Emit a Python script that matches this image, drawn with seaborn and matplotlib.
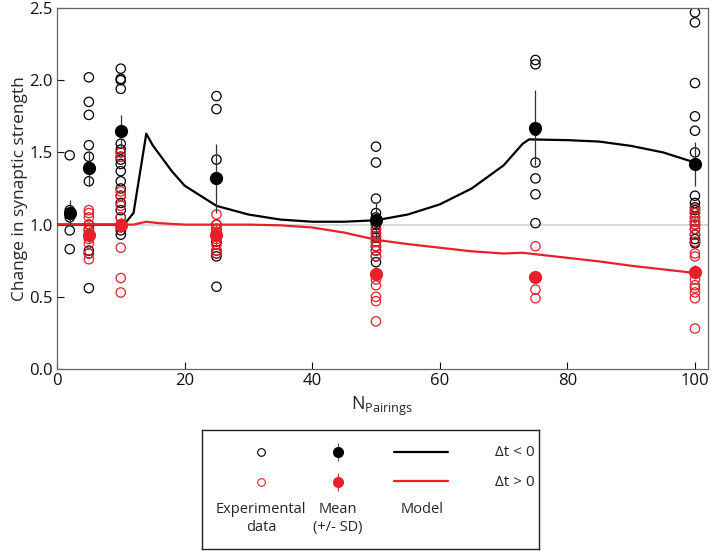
import numpy as np
import pandas as pd
import seaborn as sns
import matplotlib.pyplot as plt

# data
pairings = [2, 5, 10, 25, 50, 75, 100]

neg_data = [
    [1.48, 1.10, 1.08, 1.07, 1.05, 0.96, 0.83],
    [2.02, 1.85, 1.76, 1.55, 1.47, 1.40, 1.30, 1.00, 0.97, 0.82, 0.80, 0.56],
    [2.08, 2.01, 2.00, 1.94, 1.56, 1.52, 1.50, 1.47, 1.45, 1.42, 1.37, 1.30,
     1.25, 1.20, 1.15, 1.10, 1.05, 1.00, 0.96, 0.93],
    [1.89, 1.80, 1.45, 1.00, 0.97, 0.93, 0.88, 0.82, 0.80, 0.78, 0.57],
    [1.54, 1.43, 1.18, 1.08, 1.05, 1.00, 0.97, 0.94, 0.91, 0.88, 0.85, 0.82,
     0.78, 0.74],
    [2.14, 2.11, 1.65, 1.43, 1.32, 1.21, 1.01],
    [2.47, 2.40, 1.98, 1.75, 1.65, 1.50, 1.20, 1.15, 1.12, 1.10, 1.08, 1.05,
     1.02, 1.00, 0.97, 0.93, 0.90, 0.88, 0.87],
]
pos_data = [
    [],
    [1.10, 1.08, 1.05, 1.00, 0.96, 0.90, 0.87, 0.80, 0.76],
    [1.50, 1.47, 1.23, 1.20, 1.13, 1.05, 0.98, 0.84, 0.63, 0.53],
    [1.07, 1.00, 0.97, 0.95, 0.90, 0.86, 0.82, 0.80],
    [0.98, 0.95, 0.92, 0.88, 0.85, 0.82, 0.78, 0.62, 0.58, 0.50, 0.47, 0.33],
    [0.85, 0.55, 0.49],
    [1.11, 1.08, 1.05, 1.02, 1.00, 0.97, 0.93, 0.88, 0.80, 0.78, 0.62, 0.58,
     0.56, 0.53, 0.49, 0.28],
]

neg_mean = [1.08, 1.39, 1.65, 1.32, 1.03, 1.67, 1.42]
neg_sd = [0.09, 0.12, 0.11, 0.24, 0.12, 0.26, 0.15]
pos_x = [5, 10, 25, 50, 75, 100]
pos_mean = [0.93, 1.00, 0.93, 0.66, 0.64, 0.67]
pos_sd = [0.06, 0.05, 0.07, 0.05, 0.03, 0.05]

model_x = [0, 10.5, 12, 14, 15, 16, 18, 20, 25, 30, 35, 40, 45, 50, 55, 60,
           65, 70, 73, 74, 80, 85, 90, 95, 100]
model_neg = [1.0, 1.0, 1.08, 1.63, 1.55, 1.49, 1.37, 1.27, 1.13, 1.07, 1.035,
             1.02, 1.02, 1.03, 1.07, 1.14, 1.25, 1.41, 1.56, 1.59, 1.585,
             1.575, 1.545, 1.50, 1.43]
model_pos = [1.0, 1.0, 1.0, 1.02, 1.015, 1.01, 1.005, 1.0, 1.0, 1.0, 0.995,
             0.98, 0.945, 0.895, 0.865, 0.84, 0.815, 0.80, 0.805, 0.80, 0.77,
             0.745, 0.715, 0.69, 0.665]

RED = "#e8202a"

rows = []
for n, vals in zip(pairings, neg_data):
    rows += [(n, v, "neg") for v in vals]
for n, vals in zip(pairings, pos_data):
    rows += [(n, v, "pos") for v in vals]
exp = pd.DataFrame(rows, columns=["n", "value", "sign"])
model = pd.DataFrame({"n": model_x * 2,
                      "value": model_neg + model_pos,
                      "sign": ["neg"] * len(model_x) + ["pos"] * len(model_x)})

sns.set_style("white")
plt.rcParams["font.family"] = ["Open Sans", "DejaVu Sans"]
plt.rcParams["mathtext.default"] = "regular"

fig = plt.figure(figsize=(7.12, 5.52), dpi=100)
ax = fig.add_axes([0.080, 0.3315, 0.914, 0.654])

ax.axhline(1.0, color="#d9d9d9", lw=1.5, zorder=0)

for sign, col in [("neg", "black"), ("pos", RED)]:
    d = exp[exp.sign == sign]
    ax.scatter(d.n, d.value, s=45, facecolors="none", edgecolors=col,
               linewidths=0.9, zorder=2)

sns.lineplot(data=model, x="n", y="value", hue="sign",
             palette={"neg": "black", "pos": RED}, lw=1.6, legend=False,
             ax=ax, zorder=3)

ax.errorbar(pairings, neg_mean, yerr=neg_sd, fmt="o", color="black",
            ecolor="#333333", elinewidth=0.9, ms=8.5, capsize=0, zorder=4)
ax.errorbar(pos_x, pos_mean, yerr=pos_sd, fmt="o", color=RED,
            ecolor=RED, elinewidth=0.9, ms=8.5, capsize=0, zorder=4)

ax.set_xlim(0, 102)
ax.set_ylim(0, 2.5)
ax.set_xticks([0, 20, 40, 60, 80, 100])
ax.set_yticks([0.0, 0.5, 1.0, 1.5, 2.0, 2.5])
ax.set_yticklabels(["0.0", "0.5", "1.0", "1.5", "2.0", "2.5"])
ax.tick_params(direction="in", length=5, width=0.8, labelsize=12,
               colors="#111111", top=False, right=False, bottom=True,
               left=True, pad=3)
for s in ax.spines.values():
    s.set_color("#666666")
    s.set_linewidth(0.9)
ax.set_xlabel(r"$N_{Pairings}$", fontsize=13, labelpad=4)
ax.set_ylabel("Change in synaptic strength", fontsize=12.5, labelpad=1)

# legend box laid out as a small table
lax = fig.add_axes([0.284, 0.0054, 0.473, 0.2156])
lax.set_xlim(0, 337)
lax.set_ylim(119, 0)
lax.set_xticks([])
lax.set_yticks([])
for s in lax.spines.values():
    s.set_color("#222222")
    s.set_linewidth(1.0)

lax.plot([59], [22], "o", ms=5.5, mfc="none", mec="black", mew=0.8)
lax.plot([59], [52], "o", ms=5.5, mfc="none", mec=RED, mew=0.8)
lax.errorbar([136], [22], yerr=[[9], [9]], fmt="o", color="black",
             ecolor="#555555", elinewidth=0.8, ms=7)
lax.errorbar([136], [52], yerr=[[9], [9]], fmt="o", color=RED,
             ecolor=RED, elinewidth=0.8, ms=7)
lax.plot([192, 246], [22, 22], color="black", lw=1.6)
lax.plot([192, 246], [51, 51], color=RED, lw=1.6)
lax.text(313, 22, "Δt < 0", fontsize=11, ha="center", va="center")
lax.text(313, 52, "Δt > 0", fontsize=11, ha="center", va="center")
lax.text(59, 72, "Experimental\ndata", fontsize=10.5, ha="center", va="top",
         linespacing=1.25)
lax.text(136, 72, "Mean\n(+/- SD)", fontsize=10.5, ha="center", va="top",
         linespacing=1.25)
lax.text(220, 72, "Model", fontsize=10.5, ha="center", va="top")

fig.savefig("out.png", dpi=100)
